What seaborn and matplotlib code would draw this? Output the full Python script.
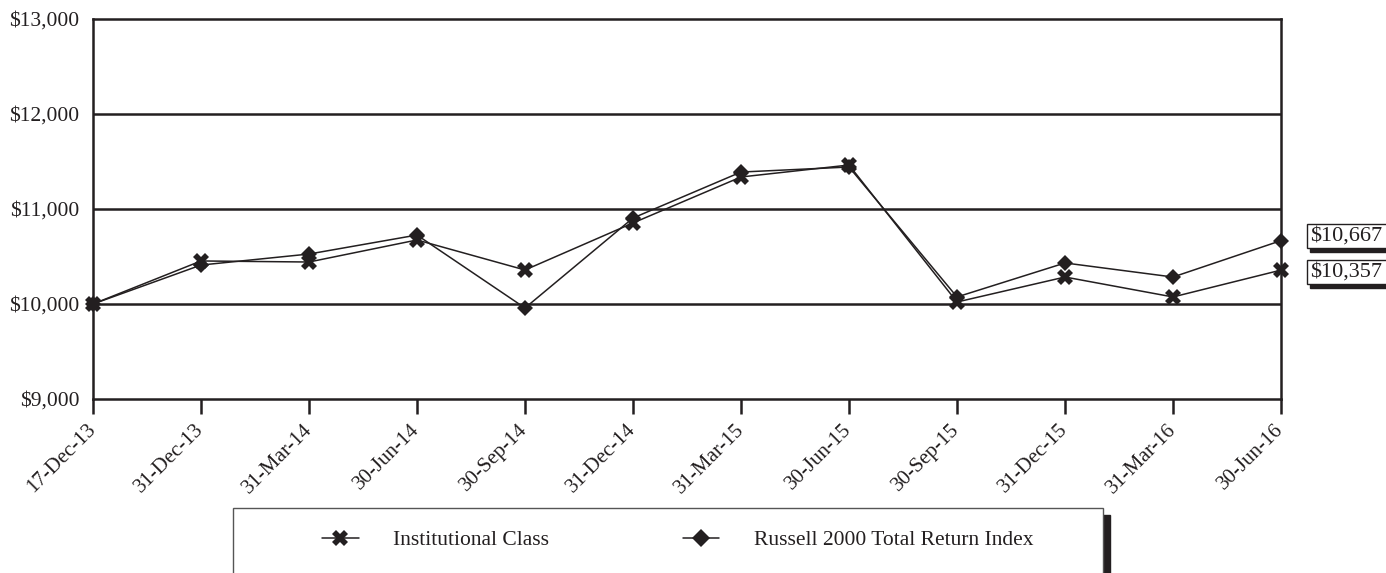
import matplotlib
matplotlib.use("Agg")
import matplotlib.pyplot as plt
from matplotlib.patches import Rectangle
from matplotlib.lines import Line2D
import seaborn as sns
import pandas as pd

# Growth of a $10,000 investment
dates = ["17-Dec-13", "31-Dec-13", "31-Mar-14", "30-Jun-14", "30-Sep-14", "31-Dec-14",
         "31-Mar-15", "30-Jun-15", "30-Sep-15", "31-Dec-15", "31-Mar-16", "30-Jun-16"]
institutional = [10000, 10453, 10442, 10674, 10358, 10853,
                 11337, 11463, 10021, 10284, 10074, 10357]
russell = [10000, 10410, 10526, 10726, 9958, 10905,
           11389, 11442, 10074, 10432, 10284, 10667]
series_names = ["Institutional Class", "Russell 2000 Total Return Index"]
end_labels = ["$10,357", "$10,667"]
y_ticks = [9000, 10000, 11000, 12000, 13000]

sns.set_style("white")
plt.rcParams["font.family"] = ["Liberation Serif", "DejaVu Serif"]

INK = "#231f20"
W, H = 1386, 573
fig = plt.figure(figsize=(W / 100, H / 100), dpi=100)


def fx(px):
    return px / W


def fy(py):
    return 1 - py / H


ax = fig.add_axes([fx(93), fy(399), fx(1281) - fx(93), fy(19) - fy(399)])

pos = list(range(len(dates)))
df = pd.DataFrame({"pos": pos * 2,
                   "value": institutional + russell,
                   "series": [series_names[0]] * len(dates) + [series_names[1]] * len(dates)})

sns.lineplot(data=df[df.series == series_names[0]], x="pos", y="value", ax=ax,
             color=INK, lw=1.1, marker="X", markersize=11, markeredgewidth=0,
             zorder=4, legend=False, clip_on=False)
sns.lineplot(data=df[df.series == series_names[1]], x="pos", y="value", ax=ax,
             color=INK, lw=1.1, marker="D", markersize=8.5, markeredgewidth=0,
             zorder=4, legend=False, clip_on=False)

ax.set_xlim(0, len(dates) - 1)
ax.set_ylim(9000, 13000)
ax.set_yticks(y_ticks)
ax.set_yticklabels([f"${v:,}" for v in y_ticks], fontsize=15.5, color=INK)
ax.tick_params(axis="y", left=False, length=0, pad=10)
ax.set_xticks(pos)
ax.set_xticklabels(dates, fontsize=15, color=INK, rotation=45,
                   ha="right", va="center", rotation_mode="anchor")
ax.tick_params(axis="x", bottom=True, length=11, width=1.8, color=INK, pad=9, direction="out")
ax.set_xlabel("")
ax.set_ylabel("")
for v in y_ticks[1:-1]:
    ax.axhline(v, color=INK, lw=1.8, zorder=1)
for s in ax.spines.values():
    s.set_color(INK)
    s.set_linewidth(1.8)

# Ending value callouts with drop shadows
for label, val in zip(end_labels, [institutional[-1], russell[-1]]):
    top = 260 if val == institutional[-1] else 224
    fig.patches.append(Rectangle((fx(1310), fy(top + 28)), fx(W + 5) - fx(1310), fy(top + 3) - fy(top + 28),
                                 transform=fig.transFigure, color=INK, zorder=1))
    fig.patches.append(Rectangle((fx(1307), fy(top + 24)), fx(W + 5) - fx(1307), fy(top) - fy(top + 24),
                                 transform=fig.transFigure, facecolor="white", edgecolor=INK,
                                 lw=1.0, zorder=2))
    fig.text(fx(1310), fy(top + 12), label, fontsize=16, color=INK, va="center", ha="left", zorder=3)

# Legend panel
fig.patches.append(Rectangle((fx(1103), fy(H + 5)), fx(1110) - fx(1103), fy(515) - fy(H + 5),
                             transform=fig.transFigure, color=INK, zorder=1))
fig.patches.append(Rectangle((fx(233), fy(H + 5)), fx(1103) - fx(233), fy(508) - fy(H + 5),
                             transform=fig.transFigure, facecolor="white", edgecolor="#555555",
                             lw=1.0, zorder=2))
handles = [Line2D([], [], color=INK, lw=1.1, marker="X", markersize=11, markeredgewidth=0),
           Line2D([], [], color=INK, lw=1.1, marker="D", markersize=9, markeredgewidth=0)]
leg = fig.legend(handles, series_names, loc="center left", bbox_to_anchor=(fx(322), fy(540)),
                 ncol=2, frameon=False, fontsize=15.5, handlelength=1.7, handletextpad=1.6,
                 columnspacing=6.2, borderpad=0, borderaxespad=0)
leg.set_zorder(5)
for t in leg.get_texts():
    t.set_color(INK)

fig.savefig("out.png", dpi=100)
